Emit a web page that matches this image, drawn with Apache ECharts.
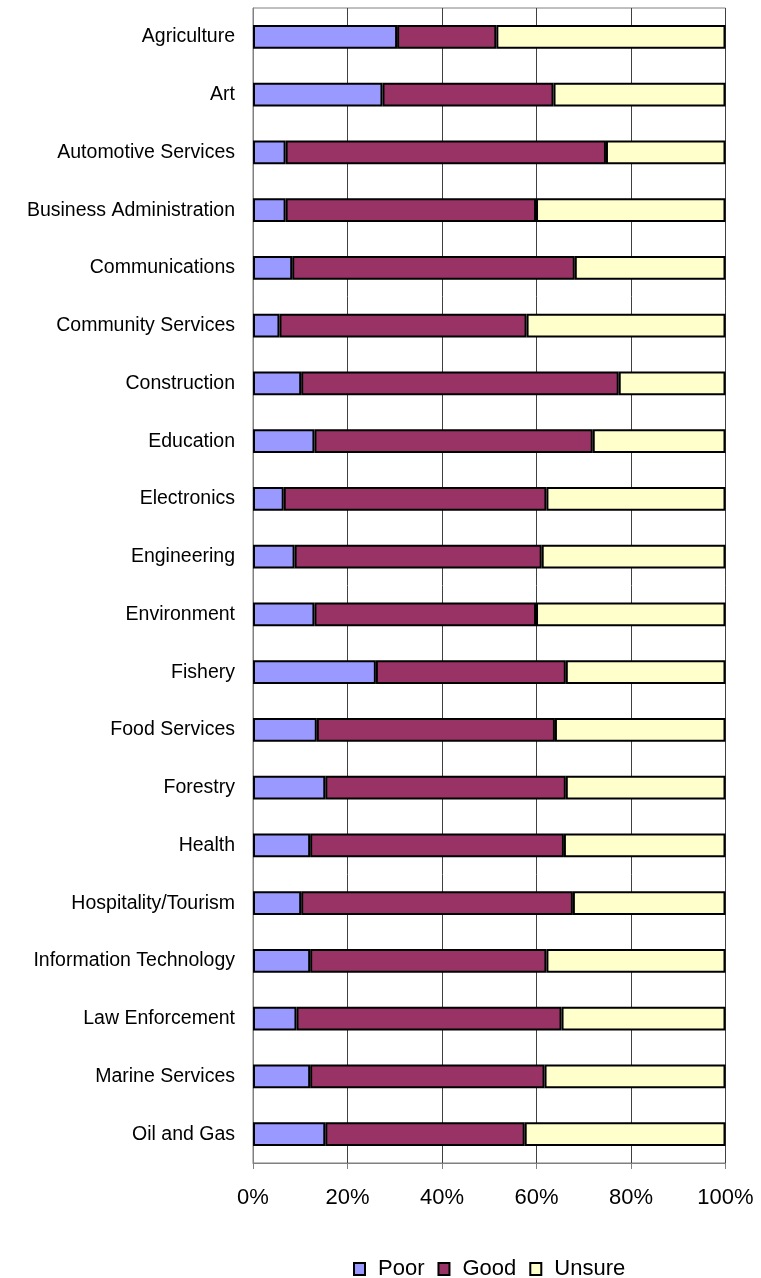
<!DOCTYPE html>
<html>
<head>
<meta charset="utf-8">
<script src="https://cdn.jsdelivr.net/npm/echarts@6/dist/echarts.min.js"></script>
<style>
  html, body { margin: 0; padding: 0; background: #fff; }
  #chart { width: 761px; height: 1278px; }
</style>
</head>
<body>
<div id="chart"></div>
<script>
const categories = ['Agriculture', 'Art', 'Automotive Services', 'Business Administration', 'Communications',
  'Community Services', 'Construction', 'Education', 'Electronics', 'Engineering', 'Environment', 'Fishery',
  'Food Services', 'Forestry', 'Health', 'Hospitality/Tourism', 'Information Technology', 'Law Enforcement',
  'Marine Services', 'Oil and Gas']
const poor = [30.5, 27.4, 6.9, 6.9, 8.3, 5.6, 10.2, 13.0, 6.5, 8.8, 13.0, 26.0, 13.5, 15.3, 12.1, 10.2, 12.1, 9.2, 12.1, 15.3]
const good = [21.0, 36.2, 67.8, 53.0, 59.8, 52.3, 67.2, 58.9, 55.6, 52.3, 46.9, 40.2, 50.4, 50.9, 53.7, 57.5, 50.0, 56.1, 49.6, 42.2]
const unsure = [48.5, 36.4, 25.3, 40.1, 31.9, 42.1, 22.6, 28.1, 37.9, 38.9, 40.1, 33.8, 36.1, 33.8, 34.2, 32.3, 37.9, 34.7, 38.3, 42.5]
const tickLabels = ['0%', '20%', '40%', '60%', '80%', '100%']

const chart = echarts.init(document.getElementById('chart'))
const fontFamily = '"Liberation Sans", Arial, sans-serif'

function barSeries (name, data, color) {
  return {
    name: name,
    type: 'bar',
    stack: 'total',
    barWidth: '41%',
    data: data,
    itemStyle: {
      color: color,
      borderColor: '#000',
      borderWidth: 2
    }
  }
}

const options = {
  animation: false,
  textStyle: { fontFamily: fontFamily },
  grid: {
    left: 253,
    top: 8,
    right: 35.5,
    bottom: 115,
    show: true,
    borderColor: '#808080',
    borderWidth: 1
  },
  legend: {
    left: 348,
    top: 1253,
    icon: 'rect',
    itemWidth: 11,
    itemHeight: 12,
    itemGap: 13,
    textStyle: {
      fontSize: 22,
      color: '#000',
      fontFamily: fontFamily,
      padding: [0, 0, 0, 8]
    },
    data: ['Poor', 'Good', 'Unsure']
  },
  xAxis: {
    type: 'value',
    min: 0,
    max: 100,
    interval: 20,
    axisLine: { show: true, lineStyle: { color: '#808080' } },
    axisTick: { show: true, length: 6, lineStyle: { color: '#808080' } },
    axisLabel: {
      margin: 24,
      fontSize: 22,
      color: '#000',
      formatter: function (v) { return tickLabels[v / 20] }
    },
    splitLine: { show: true, lineStyle: { color: '#404040', width: 1 } }
  },
  yAxis: {
    type: 'category',
    inverse: true,
    data: categories,
    axisLine: { show: true, lineStyle: { color: '#808080' } },
    axisTick: { show: false },
    axisLabel: {
      margin: 18,
      fontSize: 19.5,
      color: '#000'
    }
  },
  series: [
    barSeries('Poor', poor, '#9999FF'),
    barSeries('Good', good, '#993366'),
    barSeries('Unsure', unsure, '#FFFFCC')
  ]
}
chart.setOption(options)
</script>
</body>
</html>
